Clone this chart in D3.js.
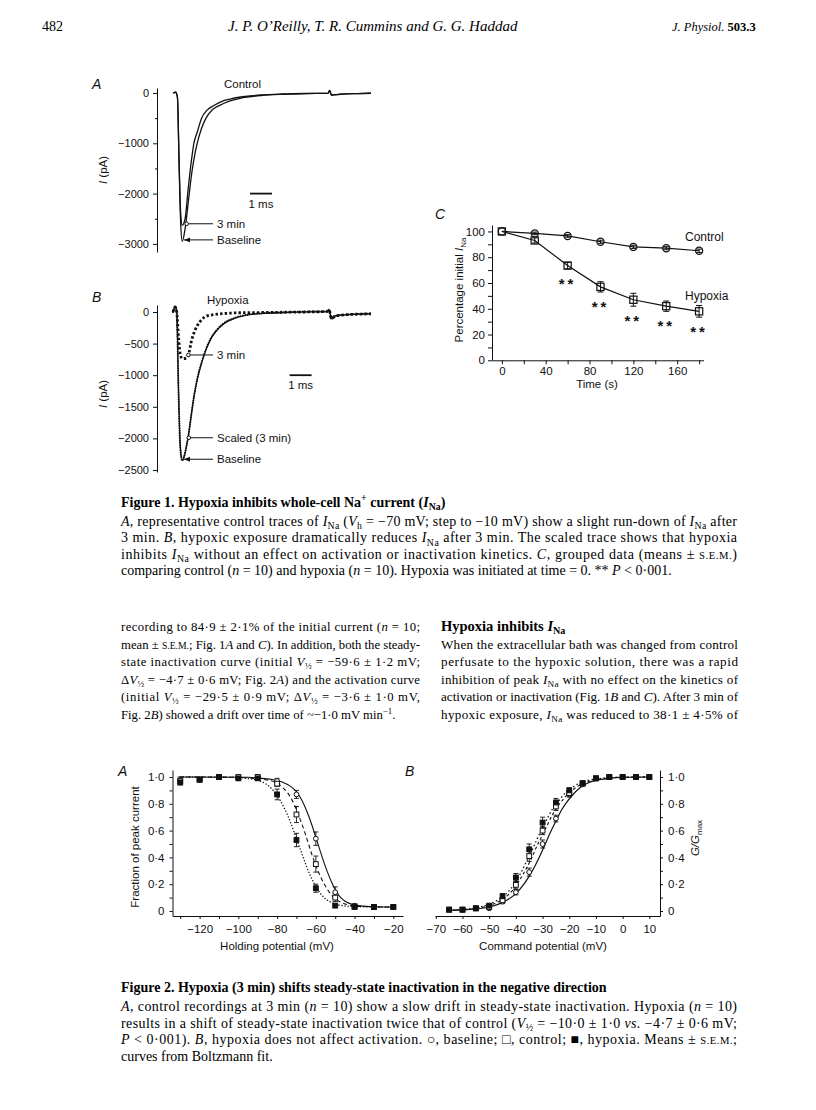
<!DOCTYPE html>
<html>
<head>
<meta charset="utf-8">
<script src="https://cdn.jsdelivr.net/npm/d3@7"></script>
<style>
body{margin:0;background:#fff}
svg{display:block}
.serif{font-family:"Liberation Serif","Times New Roman",serif;fill:#000}
.sans{font-family:"Liberation Sans",Arial,Helvetica,sans-serif;fill:#111}
</style>
</head>
<body>
<svg id="page" width="816" height="1110"></svg>
<script>
// ---------- Fig 1A: control traces (ms, pA) ----------
var ctlBaseline = [[0,0],[0.12,15],[0.2,-80],[0.28,-1500],[0.35,-2600],[0.42,-2950],[0.55,-2700],[0.7,-2150],[0.85,-1600],[1.0,-1200],[1.1,-1000],[1.3,-700],[1.5,-500],[1.8,-330],[2.1,-250],[2.5,-170],[3.0,-110],[3.5,-75],[4,-50],[5,-25],[6,-12],[7.05,-5],[7.12,50],[7.2,-40],[7.6,-25],[8.4,-12],[9,-5]];
var ctl3min = [[0,0],[0.12,15],[0.2,-80],[0.28,-1400],[0.35,-2400],[0.42,-2630],[0.55,-2500],[0.68,-1950],[0.82,-1400],[0.95,-1000],[1.1,-780],[1.3,-500],[1.55,-340],[1.86,-250],[2.2,-170],[2.6,-120],[3.0,-85],[3.5,-60],[4,-40],[5,-20],[6,-10],[7.05,-5],[7.12,50],[7.2,-40],[7.6,-25],[8.4,-12],[9,-5]];
var ampTicksA = [0,-1000,-2000,-3000];
var ampMinorA = [-500,-1500,-2500];

// ---------- Fig 1B: hypoxia traces (ms, pA) ----------
var hypBaseline = [[0,0],[0.1,90],[0.17,0],[0.25,-1200],[0.33,-2100],[0.42,-2340],[0.5,-2300],[0.6,-2150],[0.7,-1950],[0.82,-1650],[0.95,-1350],[1.1,-1080],[1.3,-810],[1.5,-600],[1.7,-440],[2.0,-290],[2.3,-190],[2.8,-100],[3.35,-50],[4,-25],[5,-10],[6,0],[7,5],[7.1,30],[7.2,-90],[7.4,-55],[8,-40],[9,-30]];
var hypScaled = [[0,0],[0.1,80],[0.17,0],[0.25,-1250],[0.33,-2150],[0.42,-2350],[0.5,-2290],[0.6,-2140],[0.7,-1960],[0.82,-1660],[0.95,-1340],[1.1,-1060],[1.3,-800],[1.5,-590],[1.7,-430],[2.0,-280],[2.3,-180],[2.8,-95],[3.35,-45],[4,-20],[5,-5],[6,5],[7,10],[7.1,40],[7.2,-110],[7.4,-60],[8,-40],[9,-25]];
var hyp3min = [[0,0],[0.1,80],[0.17,0],[0.25,-400],[0.35,-700],[0.45,-740],[0.6,-730],[0.7,-680],[0.85,-440],[1.0,-290],[1.23,-150],[1.53,-65],[2.0,-35],[2.5,-20],[3,-12],[4,-8],[5,-4],[6,0],[7,8],[7.1,30],[7.2,-100],[7.4,-60],[8,-40],[9,-30]];
var ampTicksB = [0,-500,-1000,-1500,-2000,-2500];

// ---------- Fig 1C: grouped data ----------
var timeS = [0,30,60,90,120,150,180];
var controlPct = [100,98.5,96.5,92,88,87,85];
var controlSem = [0,1,1,1.2,1.3,1.2,1.3];
var hypoxiaPct = [100,93,73.5,57,47,42,38];
var hypoxiaSem = [0,2,2.5,4,5,4,4.5];
var starTimes = [60,90,120,150,180];
var timeTicks = [0,20,40,60,80,100,120,140,160,180];
var pctTicks = [0,10,20,30,40,50,60,70,80,90,100];

// ---------- Fig 2A: steady-state inactivation ----------
var holdV = [-130,-120,-110,-100,-90,-80,-70,-60,-50,-40,-30,-20];
var inactBase = [0.98,0.98,1.0,0.99,1.0,0.97,0.87,0.54,0.14,0.04,0.03,0.03];
var inactBaseSem = [0.02,0.01,0,0.01,0.01,0.02,0.03,0.05,0.04,0.01,0,0];
var inactCtrl = [0.97,0.98,1.0,1.0,1.0,0.95,0.72,0.35,0.1,0.035,0.03,0.03];
var inactCtrlSem = [0.02,0.01,0,0.01,0.01,0.02,0.06,0.06,0.03,0.01,0,0];
var inactHyp = [0.96,0.98,1.0,0.99,0.99,0.87,0.53,0.17,0.04,0.03,0.03,0.03];
var inactHypSem = [0.02,0.01,0,0.01,0.01,0.04,0.05,0.03,0.01,0,0,0];
var fitInactBase = [[-130,1],[-95,0.998],[-88,0.99],[-82,0.98],[-77,0.96],[-73,0.93],[-70,0.89],[-67,0.82],[-64,0.72],[-62,0.64],[-60,0.55],[-58,0.46],[-56,0.37],[-54,0.29],[-52,0.22],[-50,0.16],[-48,0.115],[-46,0.085],[-44,0.065],[-41,0.048],[-37,0.038],[-30,0.032],[-20,0.03]];
var fitInactCtrl = [[-130,1],[-100,0.998],[-92,0.99],[-86,0.98],[-81,0.96],[-77,0.92],[-74,0.87],[-71,0.79],[-68,0.68],[-66,0.6],[-64,0.51],[-62,0.42],[-60,0.34],[-58,0.27],[-56,0.21],[-54,0.16],[-52,0.12],[-50,0.09],[-47,0.065],[-44,0.048],[-40,0.038],[-30,0.031],[-20,0.03]];
var fitInactHyp = [[-130,1],[-104,0.998],[-96,0.99],[-90,0.975],[-86,0.95],[-82,0.9],[-79,0.84],[-76,0.76],[-73,0.66],[-71,0.58],[-69,0.5],[-67,0.42],[-65,0.34],[-63,0.27],[-61,0.21],[-59,0.16],[-57,0.12],[-55,0.09],[-52,0.065],[-49,0.048],[-45,0.038],[-40,0.033],[-20,0.03]];
var holdTicks = [-130,-120,-110,-100,-90,-80,-70,-60,-50,-40,-30,-20];
var fracTicks = [0,0.1,0.2,0.3,0.4,0.5,0.6,0.7,0.8,0.9,1.0];

// ---------- Fig 2B: activation ----------
var cmdV = [-65,-60,-55,-50,-45,-40,-35,-30,-25,-20,-15,-10,-5,0,5,10];
var actBase = [0.01,0.01,0.02,0.02,0.07,0.14,0.29,0.5,0.69,0.87,0.945,0.99,1,1,1,1];
var actBaseSem = [0,0,0.005,0.01,0.015,0.02,0.03,0.03,0.025,0.02,0.01,0.005,0,0,0,0];
var actCtrl = [0.01,0.01,0.02,0.03,0.08,0.195,0.41,0.6,0.78,0.88,0.95,0.99,1,1,1,1];
var actCtrlSem = [0,0,0.005,0.01,0.02,0.03,0.04,0.03,0.03,0.02,0.01,0.005,0,0,0,0];
var actHyp = [0.01,0.01,0.02,0.04,0.11,0.25,0.46,0.66,0.81,0.9,0.955,0.99,1,1,1,1];
var actHypSem = [0,0,0.005,0.01,0.02,0.03,0.04,0.04,0.03,0.02,0.01,0.005,0,0,0,0];
var fitActBase = [[-65,0.005],[-60,0.008],[-55,0.015],[-50,0.03],[-46,0.055],[-43,0.085],[-40,0.13],[-37,0.2],[-35,0.26],[-33,0.33],[-31,0.41],[-29,0.5],[-27,0.59],[-25,0.67],[-23,0.75],[-21,0.81],[-19,0.86],[-16,0.92],[-13,0.955],[-10,0.975],[-5,0.99],[0,0.997],[10,1]];
var fitActCtrl = [[-65,0.006],[-60,0.01],[-55,0.02],[-50,0.04],[-47,0.065],[-44,0.1],[-41,0.16],[-38,0.25],[-36,0.32],[-34,0.4],[-32,0.49],[-30,0.57],[-28,0.65],[-26,0.73],[-24,0.79],[-22,0.84],[-19,0.9],[-16,0.94],[-13,0.965],[-10,0.98],[-5,0.993],[0,0.998],[10,1]];
var fitActHyp = [[-65,0.008],[-60,0.013],[-55,0.025],[-50,0.05],[-47,0.08],[-44,0.12],[-41,0.19],[-38,0.29],[-36,0.37],[-34,0.45],[-32,0.54],[-30,0.62],[-28,0.7],[-26,0.77],[-24,0.82],[-22,0.87],[-19,0.92],[-16,0.955],[-13,0.975],[-10,0.985],[-5,0.995],[0,0.998],[10,1]];
var cmdTicks = [-70,-60,-50,-40,-30,-20,-10,0,10];

// ---------- page text (` italic, _{} sub, ^{} sup, #..# small caps) ----------
var fig1Title = "Figure 1. Hypoxia inhibits whole-cell Na^{+} current (`I`_{Na})";
var fig1Caption = [
  "`A`, representative control traces of `I`_{Na} (`V`_{h} = −70 mV; step to −10 mV) show a slight run-down of `I`_{Na} after",
  "3 min. `B`, hypoxic exposure dramatically reduces `I`_{Na} after 3 min. The scaled trace shows that hypoxia",
  "inhibits `I`_{Na} without an effect on activation or inactivation kinetics. `C`, grouped data (means ± #s.e.m.#)",
  "comparing control (`n` = 10) and hypoxia (`n` = 10). Hypoxia was initiated at time = 0. ** `P` < 0·001."
];
var leftCol = [
  "recording to 84·9 ± 2·1% of the initial current (`n` = 10;",
  "mean ± #s.e.m.#; Fig. 1`A` and `C`). In addition, both the steady-",
  "state inactivation curve (initial  `V`_{½} = −59·6 ± 1·2 mV;",
  "Δ`V`_{½} = −4·7 ± 0·6 mV; Fig. 2`A`) and the activation curve",
  "(initial  `V`_{½} = −29·5 ± 0·9 mV;   Δ`V`_{½} = −3·6 ± 1·0 mV,",
  "Fig. 2`B`) showed a drift over time of ~−1·0 mV min^{−1}."
];
var rightHead = "Hypoxia inhibits `I`_{Na}";
var rightCol = [
  "When the extracellular bath was changed from control",
  "perfusate to the hypoxic solution, there was a rapid",
  "inhibition of peak `I`_{Na} with no effect on the kinetics of",
  "activation or inactivation (Fig. 1`B` and `C`). After 3 min of",
  "hypoxic exposure, `I`_{Na} was reduced to 38·1 ± 4·5% of"
];
var fig2Title = "Figure 2. Hypoxia (3 min) shifts steady-state inactivation in the negative direction";
var fig2Caption = [
  "`A`, control recordings at 3 min (`n` = 10) show a slow drift in steady-state inactivation. Hypoxia (`n` = 10)",
  "results in a shift of steady-state inactivation twice that of control (`V`_{½} = −10·0 ± 1·0 `vs.` −4·7 ± 0·6 mV;",
  "`P` < 0·001). `B`, hypoxia does not affect activation. ○, baseline; □, control; ■, hypoxia. Means ± #s.e.m.#;",
  "curves from Boltzmann fit."
];

// ---------- helpers ----------
var sans = "Liberation Sans, Arial, Helvetica, sans-serif";
var ink = "#111";
var svg = d3.select("#page");
svg.append("rect").attr("width",816).attr("height",1110).attr("fill","#fff");

var defs = svg.append("defs");
defs.append("marker").attr("id","arr").attr("viewBox","0 0 10 10")
  .attr("refX",10).attr("refY",5).attr("markerWidth",7).attr("markerHeight",6)
  .attr("orient","auto-start-reverse")
  .append("path").attr("d","M0,1 L10,5 L0,9 z").attr("fill",ink);

function rich(parent, str, x, y, size, opts){
  opts = opts || {};
  var t = parent.append("text").attr("class","serif").attr("x",x).attr("y",y).attr("font-size",size);
  if(opts.bold) t.attr("font-weight","bold");
  if(opts.italic) t.attr("font-style","italic");
  var parts = str.split(/(`[^`]+`|_\{[^}]*\}|\^\{[^}]*\}|#[^#]+#)/).filter(function(s){ return s.length; });
  var shift = 0;
  parts.forEach(function(p){
    var ts = t.append("tspan"), want = 0;
    if(p[0] === "`") ts.attr("font-style","italic").text(p.slice(1,-1));
    else if(p.slice(0,2) === "_{"){ ts.attr("font-size",size*0.7).text(p.slice(2,-1)); want = size*0.24; }
    else if(p.slice(0,2) === "^{"){ ts.attr("font-size",size*0.7).text(p.slice(2,-1)); want = -size*0.4; }
    else if(p[0] === "#") ts.attr("font-size",size*0.76).text(p.slice(1,-1).toUpperCase());
    else ts.text(p);
    if(want !== shift){ ts.attr("dy", want - shift); shift = want; }
  });
  if(opts.width) t.attr("textLength",opts.width).attr("lengthAdjust","spacing");
  return t;
}

// a justified paragraph: one font size for the block, small enough that no line is squeezed
function block(lines, x, y0, lh, size, width, lastJustified){
  var f = 1;
  lines.forEach(function(s,i){
    if(i === lines.length-1 && !lastJustified) return;
    var t = rich(svg, s, x, -50, size);
    f = Math.min(f, width / t.node().getComputedTextLength());
    t.remove();
  });
  lines.forEach(function(s,i){
    var just = lastJustified || i < lines.length-1;
    rich(svg, s, x, y0 + i*lh, size*f, just ? {width:width} : {});
  });
}

function styleAxis(g, size){
  g.attr("font-family",sans).attr("font-size",size);
  g.selectAll("path,line").attr("stroke",ink).attr("stroke-width",1);
  g.selectAll("text").attr("fill",ink);
}

function label(parent, str, x, y, size, anchor, rot){
  var t = parent.append("text").attr("class","sans").attr("font-size",size)
    .attr("text-anchor",anchor || "start");
  if(rot) t.attr("transform","translate("+x+","+y+") rotate("+rot+")");
  else t.attr("x",x).attr("y",y);
  t.text(str);
  return t;
}

function panelLetter(str, x, y){
  label(svg, str, x, y, 14).attr("font-style","italic");
}

var dec = function(d){ return d === 0 ? "0" : d.toFixed(1).replace(".","·"); };
var minus = function(d){ return d < 0 ? "−" + Math.abs(d) : "" + d; };

// ---------- header ----------
rich(svg, "482", 42, 31, 14);
rich(svg, "J. P. O’Reilly, T. R. Cummins and G. G. Haddad", 228, 31, 15, {italic:true});
var jp = rich(svg, "`J. Physiol.` ", 672, 31, 12.5);
jp.append("tspan").attr("font-weight","bold").text("503.3");

// ---------- Fig 1A ----------
var xA = d3.scaleLinear().domain([0,9]).range([173,371]);
var yA = d3.scaleLinear().domain([-3161,99]).range([252,88]);
var gA = svg.append("g");
gA.append("g").attr("transform","translate(157,0)")
  .call(d3.axisLeft(yA).tickValues(ampTicksA).tickFormat(minus).tickSize(4).tickSizeOuter(0).tickPadding(4))
  .call(styleAxis, 11);
gA.append("g").attr("transform","translate(157,0)")
  .call(d3.axisLeft(yA).tickValues(ampMinorA).tickFormat("").tickSize(2))
  .call(styleAxis, 11).call(function(g){ g.select(".domain").remove(); });
var lineA = d3.line().x(function(d){ return xA(d[0]); }).y(function(d){ return yA(d[1]); }).curve(d3.curveMonotoneX);
[ctlBaseline, ctl3min].forEach(function(tr){
  gA.append("path").attr("d",lineA(tr)).attr("fill","none").attr("stroke",ink).attr("stroke-width",1.3);
});
panelLetter("A", 92, 89);
var yl = label(gA, "", 107, 170, 11.5, "middle", -90);
yl.append("tspan").attr("font-style","italic").text("I");
yl.append("tspan").text(" (pA)");
label(gA, "Control", 224, 88, 11.5);
gA.append("line").attr("x1",xA(3.5)).attr("x2",xA(4.5)).attr("y1",yA(-2000)).attr("y2",yA(-2000)).attr("stroke",ink).attr("stroke-width",1.8);
label(gA, "1 ms", xA(4), yA(-2000)+14, 11.5, "middle");
gA.append("line").attr("x1",xA(0.62)).attr("x2",213).attr("y1",yA(-2600)).attr("y2",yA(-2600)).attr("stroke",ink).attr("stroke-width",1);
gA.append("circle").attr("cx",xA(0.62)).attr("cy",yA(-2600)).attr("r",1.8).attr("fill","#fff").attr("stroke",ink);
label(gA, "3 min", 217, yA(-2600)+4, 11.5);
gA.append("line").attr("x1",xA(0.5)).attr("x2",213).attr("y1",yA(-2920)).attr("y2",yA(-2920)).attr("stroke",ink).attr("stroke-width",1).attr("marker-start","url(#arr)");
label(gA, "Baseline", 217, yA(-2920)+4, 11.5);

// ---------- Fig 1B ----------
var xB = d3.scaleLinear().domain([0,9]).range([173,371]);
var yB = d3.scaleLinear().domain([-2532,111]).range([472,305]);
var gB = svg.append("g");
gB.append("g").attr("transform","translate(157,0)")
  .call(d3.axisLeft(yB).tickValues(ampTicksB).tickFormat(minus).tickSize(4).tickSizeOuter(0).tickPadding(4))
  .call(styleAxis, 11);
var lineB = d3.line().x(function(d){ return xB(d[0]); }).y(function(d){ return yB(d[1]); }).curve(d3.curveMonotoneX);
gB.append("path").attr("d",lineB(hypBaseline)).attr("fill","none").attr("stroke",ink).attr("stroke-width",1.1);
gB.append("path").attr("d",lineB(hypScaled)).attr("fill","none").attr("stroke",ink).attr("stroke-width",2)
  .attr("stroke-dasharray","0.1,2.3").attr("stroke-linecap","round");
gB.append("path").attr("d",lineB(hyp3min)).attr("fill","none").attr("stroke",ink).attr("stroke-width",2.8)
  .attr("stroke-dasharray","2.4,2.2");
panelLetter("B", 92, 302);
var ylB = label(gB, "", 107, 394, 11.5, "middle", -90);
ylB.append("tspan").attr("font-style","italic").text("I");
ylB.append("tspan").text(" (pA)");
label(gB, "Hypoxia", 207, 304, 11.5);
gB.append("line").attr("x1",xB(5.3)).attr("x2",xB(6.3)).attr("y1",yB(-1000)).attr("y2",yB(-1000)).attr("stroke",ink).attr("stroke-width",1.8);
label(gB, "1 ms", xB(5.8), yB(-1000)+14, 11.5, "middle");
gB.append("line").attr("x1",xB(0.7)).attr("x2",213).attr("y1",yB(-680)).attr("y2",yB(-680)).attr("stroke",ink);
gB.append("circle").attr("cx",xB(0.7)).attr("cy",yB(-680)).attr("r",1.8).attr("fill","#fff").attr("stroke",ink);
label(gB, "3 min", 217, yB(-680)+4, 11.5);
gB.append("line").attr("x1",xB(0.72)).attr("x2",213).attr("y1",yB(-1990)).attr("y2",yB(-1990)).attr("stroke",ink);
gB.append("circle").attr("cx",xB(0.72)).attr("cy",yB(-1990)).attr("r",1.8).attr("fill","#fff").attr("stroke",ink);
label(gB, "Scaled (3 min)", 217, yB(-1990)+4, 11.5);
gB.append("line").attr("x1",xB(0.5)).attr("x2",213).attr("y1",yB(-2330)).attr("y2",yB(-2330)).attr("stroke",ink).attr("marker-start","url(#arr)");
label(gB, "Baseline", 217, yB(-2330)+4, 11.5);

// ---------- Fig 1C ----------
var xC = d3.scaleLinear().domain([-9,184]).range([492,703.5]);
var yC = d3.scaleLinear().domain([0,105]).range([360.3,225]);
var gC = svg.append("g");
gC.append("g").attr("transform","translate(0,360.3)")
  .call(d3.axisBottom(xC).tickValues(timeTicks).tickFormat(function(d){ return d % 40 === 0 ? d : ""; }).tickSize(4).tickSizeOuter(0).tickPadding(3))
  .call(styleAxis, 11.5);
gC.append("g").attr("transform","translate(492,0)")
  .call(d3.axisLeft(yC).tickValues(pctTicks).tickFormat(function(d){ return d % 20 === 0 ? d : ""; }).tickSize(4).tickSizeOuter(0).tickPadding(3))
  .call(styleAxis, 11.5);
panelLetter("C", 435, 219);
var ylC = label(gC, "Percentage initial ", 463, 290, 11.5, "middle", -90);
ylC.append("tspan").attr("font-style","italic").text("I");
ylC.append("tspan").attr("font-size",8).attr("dy",3).text("Na");
label(gC, "Time (s)", 597, 388, 11.5, "middle");
function seriesC(vals, sems){
  var pts = timeS.map(function(t,i){ return {t:t, v:vals[i], s:sems[i]}; });
  gC.append("path").attr("d", d3.line().x(function(d){ return xC(d.t); }).y(function(d){ return yC(d.v); })(pts))
    .attr("fill","none").attr("stroke",ink).attr("stroke-width",1.2);
  pts.filter(function(d){ return d.s > 0; }).forEach(function(d){
    var cx = xC(d.t);
    gC.append("path").attr("d","M"+cx+","+yC(d.v-d.s)+"V"+yC(d.v+d.s)+"M"+(cx-3)+","+yC(d.v-d.s)+"h6M"+(cx-3)+","+yC(d.v+d.s)+"h6")
      .attr("stroke",ink).attr("fill","none");
  });
  return pts;
}
var ptsCtl = seriesC(controlPct, controlSem);
var ptsHyp = seriesC(hypoxiaPct, hypoxiaSem);
gC.selectAll(".cc").data(ptsCtl).enter().append("circle")
  .attr("cx",function(d){ return xC(d.t); }).attr("cy",function(d){ return yC(d.v); })
  .attr("r",3.6).attr("fill","none").attr("stroke",ink).attr("stroke-width",1.2);
gC.selectAll(".hs").data(ptsHyp).enter().append("rect")
  .attr("x",function(d){ return xC(d.t)-3.6; }).attr("y",function(d){ return yC(d.v)-3.6; })
  .attr("width",7.2).attr("height",7.2).attr("fill","none").attr("stroke",ink).attr("stroke-width",1.2);
starTimes.forEach(function(t){
  var i = timeS.indexOf(t);
  label(gC, "**", xC(t), yC(hypoxiaPct[i]-hypoxiaSem[i])+20, 15, "middle").attr("font-weight","bold").attr("letter-spacing",3);
});
label(gC, "Control", 685, 241, 12);
label(gC, "Hypoxia", 685, 300, 12);

// ---------- Figure 1 caption ----------
rich(svg, fig1Title, 121, 507, 14, {bold:true});
block(fig1Caption, 121, 526, 16.3, 14, 616, false);

// ---------- body text ----------
block(leftCol, 121, 631, 17.6, 14.5, 299, false);
rich(svg, rightHead, 441, 631, 14.5, {bold:true});
block(rightCol, 441, 631 + 17.6, 17.6, 14.5, 297, true);

// ---------- Fig 2 shared ----------
var yF = d3.scaleLinear().domain([-0.0373,1.0522]).range([916,770]);
function errBars(g, x, xs, vals, sems){
  xs.forEach(function(v,i){
    if(!sems[i]) return;
    var cx = x(v), lo = yF(vals[i]-sems[i]), hi = yF(vals[i]+sems[i]);
    g.append("path").attr("d","M"+cx+","+lo+"V"+hi+"M"+(cx-2.5)+","+lo+"h5M"+(cx-2.5)+","+hi+"h5")
      .attr("stroke",ink).attr("fill","none").attr("stroke-width",0.9);
  });
}
function markers(g, x, xs, vals, kind){
  xs.forEach(function(v,i){
    var cx = x(v), cy = yF(vals[i]);
    if(kind === "circle") g.append("circle").attr("cx",cx).attr("cy",cy).attr("r",2.4).attr("fill","#fff").attr("stroke",ink).attr("stroke-width",1);
    else g.append("rect").attr("x",cx-2.4).attr("y",cy-2.4).attr("width",4.8).attr("height",4.8)
      .attr("fill", kind === "filled" ? ink : "#fff").attr("stroke",ink).attr("stroke-width",1);
  });
}

// ---------- Fig 2A ----------
var x2a = d3.scaleLinear().domain([-134,-15]).range([172.5,403]);
var g2a = svg.append("g");
g2a.append("g").attr("transform","translate(0,916)")
  .call(d3.axisBottom(x2a).tickValues(holdTicks).tickFormat(function(d){ return d % 20 === 0 ? minus(d) : ""; }).tickSize(3).tickSizeOuter(0).tickPadding(6))
  .call(styleAxis, 11.5);
g2a.append("g").attr("transform","translate(172.5,0)")
  .call(d3.axisLeft(yF).tickValues(fracTicks).tickFormat(function(d){ return Math.round(d*10) % 2 === 0 ? dec(d) : ""; }).tickSize(3).tickSizeOuter(0).tickPadding(5))
  .call(styleAxis, 11.5);
var lineF2a = d3.line().x(function(d){ return x2a(d[0]); }).y(function(d){ return yF(d[1]); }).curve(d3.curveMonotoneX);
g2a.append("path").attr("d",lineF2a(fitInactBase)).attr("fill","none").attr("stroke",ink).attr("stroke-width",1.1);
g2a.append("path").attr("d",lineF2a(fitInactCtrl)).attr("fill","none").attr("stroke",ink).attr("stroke-width",1.1).attr("stroke-dasharray","4,3");
g2a.append("path").attr("d",lineF2a(fitInactHyp)).attr("fill","none").attr("stroke",ink).attr("stroke-width",1.4).attr("stroke-dasharray","0.1,3").attr("stroke-linecap","round");
errBars(g2a, x2a, holdV, inactBase, inactBaseSem);
errBars(g2a, x2a, holdV, inactCtrl, inactCtrlSem);
errBars(g2a, x2a, holdV, inactHyp, inactHypSem);
markers(g2a, x2a, holdV, inactBase, "circle");
markers(g2a, x2a, holdV, inactCtrl, "square");
markers(g2a, x2a, holdV, inactHyp, "filled");
panelLetter("A", 118, 776);
label(g2a, "Fraction of peak current", 139, 847, 11.5, "middle", -90);
label(g2a, "Holding potential (mV)", 277, 950, 11.5, "middle");

// ---------- Fig 2B ----------
var x2b = d3.scaleLinear().domain([-70.3,14]).range([435,660]);
var g2b = svg.append("g");
g2b.append("g").attr("transform","translate(0,916)")
  .call(d3.axisBottom(x2b).tickValues(cmdTicks).tickFormat(minus).tickSize(3).tickSizeOuter(0).tickPadding(6))
  .call(styleAxis, 11.5);
g2b.append("g").attr("transform","translate(660,0)")
  .call(d3.axisRight(yF).tickValues(fracTicks).tickFormat(function(d){ return Math.round(d*10) % 2 === 0 ? dec(d) : ""; }).tickSize(3).tickSizeOuter(0).tickPadding(5))
  .call(styleAxis, 11.5);
var lineF2b = d3.line().x(function(d){ return x2b(d[0]); }).y(function(d){ return yF(d[1]); }).curve(d3.curveMonotoneX);
g2b.append("path").attr("d",lineF2b(fitActBase)).attr("fill","none").attr("stroke",ink).attr("stroke-width",1.2);
g2b.append("path").attr("d",lineF2b(fitActCtrl)).attr("fill","none").attr("stroke",ink).attr("stroke-width",1.1).attr("stroke-dasharray","3,2.5");
g2b.append("path").attr("d",lineF2b(fitActHyp)).attr("fill","none").attr("stroke",ink).attr("stroke-width",1.3).attr("stroke-dasharray","1.5,2.5");
errBars(g2b, x2b, cmdV, actBase, actBaseSem);
errBars(g2b, x2b, cmdV, actCtrl, actCtrlSem);
errBars(g2b, x2b, cmdV, actHyp, actHypSem);
markers(g2b, x2b, cmdV, actBase, "circle");
markers(g2b, x2b, cmdV, actCtrl, "square");
markers(g2b, x2b, cmdV, actHyp, "filled");
panelLetter("B", 405, 776);
var gl = label(g2b, "", 699, 838, 11.5, "middle", -90).attr("font-style","italic");
gl.append("tspan").text("G/G");
gl.append("tspan").attr("font-size",8).attr("font-style","normal").attr("dy",3).text("max");
label(g2b, "Command potential (mV)", 543, 950, 11.5, "middle");

// ---------- Figure 2 caption ----------
rich(svg, fig2Title, 121, 992, 14, {bold:true});
block(fig2Caption, 121, 1011, 16.5, 14, 616, false);
</script>
</body>
</html>
